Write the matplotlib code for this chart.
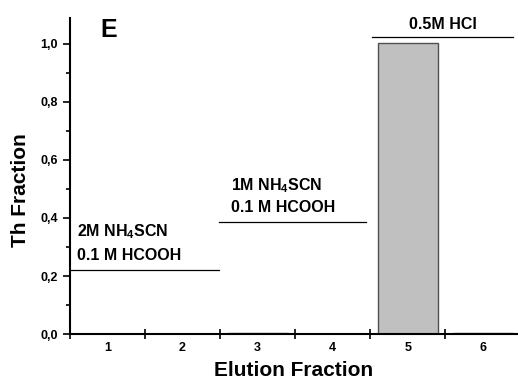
import numpy as np
import matplotlib.pyplot as plt
from matplotlib.ticker import FixedLocator, MultipleLocator, FuncFormatter

plt.rcParams['font.family'] = ['Liberation Sans', 'DejaVu Sans']
plt.rcParams['font.weight'] = 'bold'
plt.rcParams['mathtext.fontset'] = 'custom'
plt.rcParams['mathtext.rm'] = 'Liberation Sans:bold'
plt.rcParams['mathtext.bf'] = 'Liberation Sans:bold'
plt.rcParams['mathtext.default'] = 'bf'

fractions = [1, 2, 3, 4, 5, 6]
th_fraction = [0.0, 0.0, 0.002, 0.001, 1.005, 0.002]

# eluent steps: (start, end, level)
steps = [
    (0.5, 2.48, 0.22),
    (2.48, 4.45, 0.386),
    (4.52, 6.4, 1.024),
]
step_labels = [
    ['2M NH$_4$SCN', '0.1 M HCOOH'],
    ['1M NH$_4$SCN', '0.1 M HCOOH'],
    ['0.5M HCl'],
]

fig = plt.figure(figsize=(5.18, 3.8), dpi=100)
ax = fig.add_axes([0.135, 0.121, 0.865, 0.832])

ax.bar(fractions, th_fraction, width=0.8, color='#c0c0c0', edgecolor='#505050', linewidth=1.0)

for x0, x1, lev in steps:
    ax.plot([x0, x1], [lev, lev], color='black', lw=0.9)

fs = 11.5
ax.text(0.6, 0.338, step_labels[0][0], fontsize=fs, fontweight='bold', va='baseline')
ax.text(0.6, 0.255, step_labels[0][1], fontsize=fs, fontweight='bold', va='baseline')
ax.text(2.65, 0.497, step_labels[1][0], fontsize=fs, fontweight='bold', va='baseline')
ax.text(2.65, 0.421, step_labels[1][1], fontsize=fs, fontweight='bold', va='baseline')
ax.text(5.47, 1.052, step_labels[2][0], fontsize=fs, fontweight='bold', va='baseline', ha='center')
ax.text(0.9, 1.024, 'E', fontsize=18, fontweight='bold', va='baseline')

ax.set_xlim(0.5, 6.47)
ax.set_ylim(0, 1.09)

ax.xaxis.set_major_locator(FixedLocator(np.arange(0.5, 6.6, 1.0)))
ax.xaxis.set_major_formatter(FuncFormatter(lambda v, p: ''))
ax.xaxis.set_minor_locator(FixedLocator(fractions))
ax.xaxis.set_minor_formatter(FuncFormatter(lambda v, p: '%d' % round(v)))
ax.tick_params(axis='x', which='major', direction='inout', length=7, width=1.2)
ax.tick_params(axis='x', which='minor', length=0, labelsize=9, pad=6)

ax.yaxis.set_major_locator(MultipleLocator(0.2))
ax.yaxis.set_minor_locator(MultipleLocator(0.1))
ax.yaxis.set_major_formatter(FuncFormatter(lambda v, p: ('%.1f' % v).replace('.', ',')))
ax.tick_params(axis='y', which='major', direction='out', length=5, width=1.2, labelsize=9)
ax.tick_params(axis='y', which='minor', direction='out', length=3, width=1.2)

for lab in ax.get_xticklabels(minor=True) + ax.get_yticklabels():
    lab.set_fontweight('bold')

ax.spines['top'].set_visible(False)
ax.spines['right'].set_visible(False)
ax.spines['left'].set_linewidth(1.5)
ax.spines['bottom'].set_linewidth(1.5)

ax.set_xlabel('Elution Fraction', fontsize=15, fontweight='bold', labelpad=5)
ax.set_ylabel('Th Fraction', fontsize=15, fontweight='bold')
ax.yaxis.set_label_coords(-0.088, 0.455)

fig.savefig('out.png', dpi=100)
